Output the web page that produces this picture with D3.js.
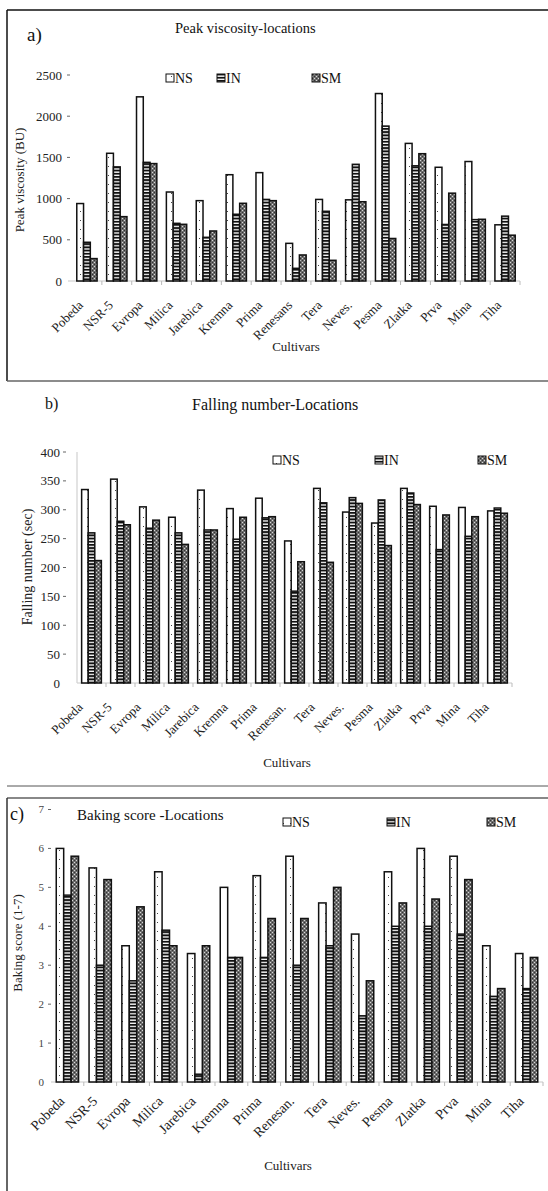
<!DOCTYPE html>
<html>
<head>
<meta charset="utf-8">
<script src="https://cdn.jsdelivr.net/npm/d3@7"></script>
<style>
  body { margin: 0; background: #fff; }
  svg { display: block; font-family: 'Liberation Serif', 'DejaVu Serif', serif; }
</style>
</head>
<body>
<svg id="chart"></svg>
<script>
// cultivar names as printed under each panel
const cultivarsA = ['Pobeda', 'NSR-5', 'Evropa', 'Milica', 'Jarebica', 'Kremna', 'Prima', 'Renesans', 'Tera', 'Neves.', 'Pesma', 'Zlatka', 'Prva', 'Mina', 'Tiha']
const cultivarsB = ['Pobeda', 'NSR-5', 'Evropa', 'Milica', 'Jarebica', 'Kremna', 'Prima', 'Renesan.', 'Tera', 'Neves.', 'Pesma', 'Zlatka', 'Prva', 'Mina', 'Tiha']
const locations = ['NS', 'IN', 'SM']

// a) peak viscosity (BU)
const peakNS = [940, 1550, 2235, 1080, 975, 1290, 1315, 457, 990, 985, 2275, 1670, 1380, 1450, 682]
const peakIN = [470, 1385, 1440, 700, 530, 810, 990, 154, 846, 1416, 1880, 1398, 686, 745, 787]
const peakSM = [272, 781, 1425, 688, 607, 943, 975, 316, 251, 962, 516, 1545, 1066, 749, 556]
const peakTicks = [0, 500, 1000, 1500, 2000, 2500]

// b) falling number (sec)
const fallNS = [335, 353, 305, 287, 334, 302, 320, 246, 337, 296, 277, 337, 306, 304, 298]
const fallIN = [260, 280, 268, 260, 265, 249, 286, 159, 312, 321, 317, 329, 231, 254, 303]
const fallSM = [212, 274, 282, 240, 265, 287, 288, 210, 209, 311, 238, 309, 291, 288, 294]
const fallTicks = [0, 50, 100, 150, 200, 250, 300, 350, 400]

// c) baking score (1-7)
const bakeNS = [6.0, 5.5, 3.5, 5.4, 3.3, 5.0, 5.3, 5.8, 4.6, 3.8, 5.4, 6.0, 5.8, 3.5, 3.3]
const bakeIN = [4.8, 3.0, 2.6, 3.9, 0.2, 3.2, 3.2, 3.0, 3.5, 1.7, 4.0, 4.0, 3.8, 2.2, 2.4]
const bakeSM = [5.8, 5.2, 4.5, 3.5, 3.5, 3.2, 4.2, 4.2, 5.0, 2.6, 4.6, 4.7, 5.2, 2.4, 3.2]
const bakeTicks = [0, 1, 2, 3, 4, 5, 6, 7]

const w = 548
const h = 1191

let svg = d3.select('#chart').attr('width', w).attr('height', h)

// fill patterns for the three locations
let defs = svg.append('defs')

let pNS = defs.append('pattern').attr('id', 'pat-NS')
  .attr('patternUnits', 'userSpaceOnUse').attr('width', 7).attr('height', 9)
pNS.append('rect').attr('width', 7).attr('height', 9).attr('fill', '#fff')
pNS.append('rect').attr('x', 3).attr('y', 4).attr('width', 1).attr('height', 1).attr('fill', '#444')

let pIN = defs.append('pattern').attr('id', 'pat-IN')
  .attr('patternUnits', 'userSpaceOnUse').attr('width', 6).attr('height', 3.2)
pIN.append('rect').attr('width', 6).attr('height', 3.2).attr('fill', '#fff')
pIN.append('rect').attr('y', 0).attr('width', 6).attr('height', 1.9).attr('fill', '#111')

let pSM = defs.append('pattern').attr('id', 'pat-SM')
  .attr('patternUnits', 'userSpaceOnUse').attr('width', 4).attr('height', 4)
pSM.append('rect').attr('width', 4).attr('height', 4).attr('fill', '#6e6e6e')
pSM.append('rect').attr('x', 0).attr('y', 0).attr('width', 1).attr('height', 1).attr('fill', '#d8d8d8')
pSM.append('rect').attr('x', 2).attr('y', 2).attr('width', 1).attr('height', 1).attr('fill', '#d8d8d8')
pSM.append('rect').attr('x', 2).attr('y', 0).attr('width', 1).attr('height', 1).attr('fill', '#333')
pSM.append('rect').attr('x', 0).attr('y', 2).attr('width', 1).attr('height', 1).attr('fill', '#333')

// panel frames
let frame = (x1, y1, x2, y2, col, sw) => {
  svg.append('line').attr('x1', x1).attr('y1', y1).attr('x2', x2).attr('y2', y2)
    .attr('stroke', col).attr('stroke-width', sw)
}
frame(7, 10, 548, 10, '#111', 1.5)
frame(7, 10, 7, 381, '#111', 1.5)
frame(7, 381, 548, 381, '#666', 1.5)
frame(7, 786, 548, 786, '#555', 1)
frame(7, 798, 548, 798, '#888', 2)
frame(7, 798, 7, 1191, '#333', 1.5)

let drawPanel = (p) => {
  let g = svg.append('g')
  let series = [p.ns, p.in, p.sm]

  let xScale = d3.scaleBand()
    .domain(p.cats)
    .range([p.x0, p.x1])
    .paddingInner(0.32)
    .paddingOuter(0.16)

  let xSub = d3.scaleBand()
    .domain(locations)
    .range([0, xScale.bandwidth()])

  let yScale = d3.scaleLinear()
    .domain([0, p.ticks[p.ticks.length - 1]])
    .range([p.y0, p.y1])

  // baseline + category ticks
  g.append('line')
    .attr('x1', p.axisStart).attr('x2', p.x1)
    .attr('y1', p.y0).attr('y2', p.y0)
    .attr('stroke', '#c8c8c8').attr('stroke-width', 1.2)

  let step = (p.x1 - p.x0) / p.cats.length
  g.selectAll('.xtick')
    .data(d3.range(1, p.cats.length + 1))
    .enter()
    .append('line')
    .attr('x1', i => p.x0 + i * step).attr('x2', i => p.x0 + i * step)
    .attr('y1', p.y0).attr('y2', p.y0 + 4)
    .attr('stroke', '#bbb')

  if (p.yLine) {
    g.append('line')
      .attr('x1', p.x0).attr('x2', p.x0)
      .attr('y1', p.y0).attr('y2', p.y1)
      .attr('stroke', '#d0d0d0').attr('stroke-width', 1.2)
  }

  // y tick labels with small dashes
  g.selectAll('.ylab')
    .data(p.ticks)
    .enter()
    .append('text')
    .attr('x', p.labelX)
    .attr('y', d => yScale(d))
    .attr('dy', '0.35em')
    .attr('text-anchor', 'end')
    .attr('font-size', p.tickSize)
    .attr('fill', p.tickColor)
    .text(d => d)

  g.selectAll('.ydash')
    .data(p.ticks.slice(1))
    .enter()
    .append('line')
    .attr('x1', p.dashX).attr('x2', p.dashX + 3)
    .attr('y1', d => yScale(d)).attr('y2', d => yScale(d))
    .attr('stroke', '#666')

  // bars
  series.forEach((vals, si) => {
    g.selectAll('.bar' + si)
      .data(vals)
      .enter()
      .append('rect')
      .attr('x', (d, i) => xScale(p.cats[i]) + xSub(locations[si]))
      .attr('y', d => yScale(d))
      .attr('width', xSub.bandwidth())
      .attr('height', d => p.y0 - yScale(d))
      .attr('fill', 'url(#pat-' + locations[si] + ')')
      .attr('stroke', '#111')
      .attr('stroke-width', 1.5)
  })

  // category labels
  g.selectAll('.xlab')
    .data(p.cats)
    .enter()
    .append('text')
    .attr('transform', d => 'translate(' + (xScale(d) + xScale.bandwidth() / 2 + p.labDx) + ',' + (p.y0 + p.labDy) + ') rotate(-45)')
    .attr('text-anchor', 'end')
    .attr('font-size', p.labSize)
    .attr('fill', '#222')
    .text(d => d)

  // legend
  locations.forEach((loc, i) => {
    g.append('rect')
      .attr('x', p.legendX[i]).attr('y', p.legendY - 4)
      .attr('width', 8).attr('height', 8)
      .attr('fill', 'url(#pat-' + loc + ')')
      .attr('stroke', '#111').attr('stroke-width', 1)
    g.append('text')
      .attr('x', p.legendX[i] + 9).attr('y', p.legendY)
      .attr('dy', '0.36em')
      .attr('font-size', 14)
      .attr('fill', '#111')
      .text(loc)
  })

  // titles
  g.append('text').attr('x', p.tagX).attr('y', p.tagY)
    .attr('font-size', p.tagSize).attr('fill', '#111').text(p.tag)
  g.append('text').attr('x', p.titleX).attr('y', p.titleY)
    .attr('font-size', p.titleSize).attr('fill', '#111').text(p.title)
  g.append('text')
    .attr('transform', 'translate(' + p.yTitleX + ',' + p.yTitleY + ') rotate(-90)')
    .attr('text-anchor', 'middle')
    .attr('font-size', p.yTitleSize)
    .attr('fill', '#222')
    .text(p.yTitle)
  g.append('text').attr('x', p.xTitleX).attr('y', p.xTitleY)
    .attr('text-anchor', 'middle')
    .attr('font-size', 13).attr('fill', '#222').text('Cultivars')
}

drawPanel({
  cats: cultivarsA, ns: peakNS, in: peakIN, sm: peakSM, ticks: peakTicks,
  x0: 72, x1: 520, axisStart: 68, y0: 281, y1: 75, yLine: false,
  labelX: 62, dashX: 67, tickSize: 13, tickColor: '#222',
  labDx: -3, labDy: 25, labSize: 13,
  legendX: [166, 217, 312], legendY: 78,
  tag: 'a)', tagX: 27, tagY: 41, tagSize: 19,
  title: 'Peak viscosity-locations', titleX: 175, titleY: 33, titleSize: 14.5,
  yTitle: 'Peak viscosity (BU)', yTitleX: 24, yTitleY: 180, yTitleSize: 13,
  xTitleX: 296, xTitleY: 351
})

drawPanel({
  cats: cultivarsB, ns: fallNS, in: fallIN, sm: fallSM, ticks: fallTicks,
  x0: 77, x1: 512, axisStart: 77, y0: 683, y1: 452, yLine: true,
  labelX: 60, dashX: 63, tickSize: 13, tickColor: '#222',
  labDx: -8, labDy: 25, labSize: 13,
  legendX: [273, 375, 478], legendY: 460,
  tag: 'b)', tagX: 45, tagY: 409, tagSize: 16,
  title: 'Falling number-Locations', titleX: 192, titleY: 410, titleSize: 16,
  yTitle: 'Falling number (sec)', yTitleX: 32, yTitleY: 567, yTitleSize: 14,
  xTitleX: 287, xTitleY: 767
})

drawPanel({
  cats: cultivarsB, ns: bakeNS, in: bakeIN, sm: bakeSM, ticks: bakeTicks,
  x0: 51, x1: 543, axisStart: 51, y0: 1082, y1: 809.5, yLine: false,
  labelX: 44, dashX: 48, tickSize: 11, tickColor: '#444',
  labDx: -2, labDy: 20, labSize: 14,
  legendX: [283, 387, 487], legendY: 822,
  tag: 'c)', tagX: 10, tagY: 820, tagSize: 18,
  title: 'Baking score -Locations', titleX: 77, titleY: 820, titleSize: 15,
  yTitle: 'Baking score (1-7)', yTitleX: 22, yTitleY: 943, yTitleSize: 13,
  xTitleX: 288, xTitleY: 1170
})
</script>
</body>
</html>
